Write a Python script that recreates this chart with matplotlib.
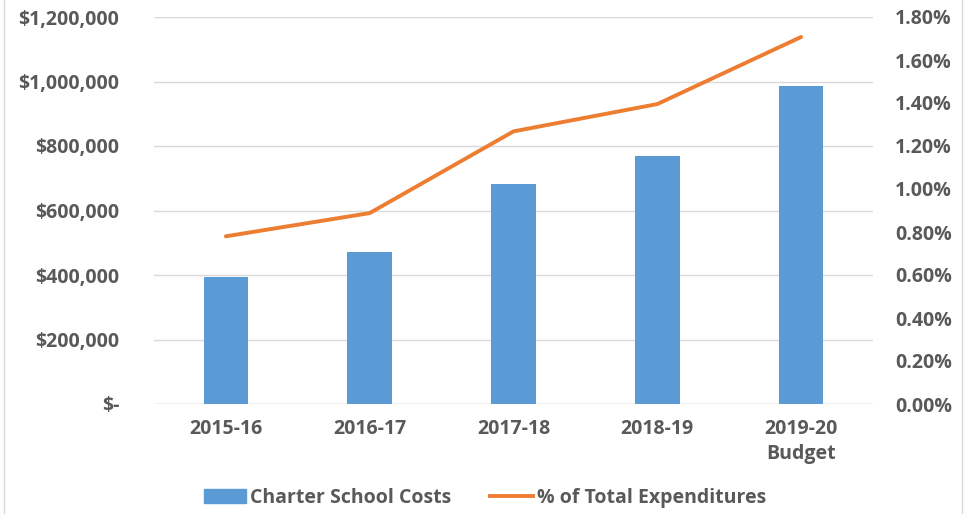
import numpy as np
import matplotlib.pyplot as plt
from matplotlib.ticker import FuncFormatter, MultipleLocator
from matplotlib.lines import Line2D

years = ["2015-16", "2016-17", "2017-18", "2018-19", "2019-20\nBudget"]
costs = [394000, 471000, 682000, 769000, 986000]
pct_total = [0.78, 0.888, 1.268, 1.395, 1.707]

bar_color = "#5B9BD5"
line_color = "#ED7D31"
text_color = "#595959"
grid_color = "#D9D9D9"

plt.rcParams["font.family"] = ["Open Sans", "DejaVu Sans"]
plt.rcParams["font.weight"] = "bold"
fs = 14

fig = plt.figure(figsize=(9.64, 5.14), dpi=100)
ax = fig.add_axes([154 / 964, 1 - 404 / 514, (873 - 154) / 964, (404 - 17) / 514])
x = np.arange(len(years))

ax.bar(x, costs, width=0.31, color=bar_color, zorder=2, label="Charter School Costs")
ax.set_xlim(-0.5, len(years) - 0.5)
ax.set_ylim(0, 1200000)
ax.yaxis.set_major_locator(MultipleLocator(200000))


def dollar(v, pos):
    if v == 0:
        return "$-"
    return "${:,.0f}".format(v)


ax.yaxis.set_major_formatter(FuncFormatter(dollar))
ax.grid(axis="y", color=grid_color, lw=1, zorder=0)
ax.set_xticks(x)
ax.set_xticklabels(years, linespacing=1.3)

ax2 = ax.twinx()
ax2.plot(x, pct_total, color=line_color, lw=2.8, solid_capstyle="round", zorder=3)
ax2.set_ylim(0, 1.8)
ax2.yaxis.set_major_locator(MultipleLocator(0.2))
ax2.yaxis.set_major_formatter(FuncFormatter(lambda v, p: "{:.2f}%".format(v)))

for a in (ax, ax2):
    for s in a.spines.values():
        s.set_visible(False)
    a.tick_params(length=0, labelsize=fs, colors=text_color)
ax.tick_params(axis="y", pad=25)
ax.tick_params(axis="x", pad=11)
ax2.tick_params(axis="y", pad=16)
ax.axhline(0, color=grid_color, lw=1, zorder=1)
for lab in ax.get_xticklabels() + ax.get_yticklabels() + ax2.get_yticklabels():
    lab.set_fontweight("bold")

handles = [
    plt.Rectangle((0, 0), 1, 1, color=bar_color),
    Line2D([0], [0], color=line_color, lw=2.8),
]
leg = fig.legend(handles, ["Charter School Costs", "% of Total Expenditures"],
                 loc="center", bbox_to_anchor=(485 / 964, 1 - 498 / 514), ncol=2,
                 frameon=False, fontsize=fs, handlelength=2.2, handletextpad=0.2,
                 columnspacing=2.0)
for t in leg.get_texts():
    t.set_color(text_color)
    t.set_fontweight("bold")

# chart border on the sides
fig.add_artist(Line2D([4 / 964, 4 / 964], [0, 1], color=grid_color, lw=1))
fig.add_artist(Line2D([962 / 964, 962 / 964], [0, 1], color=grid_color, lw=1))

fig.savefig("out.png", dpi=100)
